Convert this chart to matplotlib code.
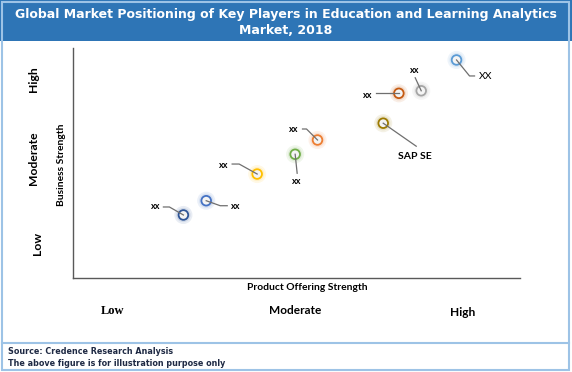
import matplotlib
matplotlib.use("Agg")
import matplotlib.pyplot as plt
from matplotlib.patches import Rectangle

# ---- data ----
names = ["xx", "xx", "xx", "xx", "xx", "SAP SE", "xx", "xx", "XX"]
product_strength = [2.47, 2.98, 4.12, 4.97, 5.47, 6.94, 7.29, 7.79, 8.58]
business_strength = [2.74, 3.36, 4.52, 5.38, 6.00, 6.73, 8.03, 8.14, 9.48]
colors = ["#2F5597", "#4472C4", "#FFC000", "#70AD47", "#ED7D31",
          "#9C7A00", "#C55A11", "#A5A5A5", "#5B9BD5"]
x_levels = ["Low", "Moderate", "High"]
y_levels = ["Low", "Moderate", "High"]
title = "Global Market Positioning of Key Players in Education and Learning Analytics\nMarket, 2018"
x_title = "Product Offering Strength"
y_title = "Business Strength"
footer = ["Source: Credence Research Analysis",
          "The above figure is for illustration purpose only"]

# ---- layout: label offsets and leader-line vertices, in pixels (y up) ----
label_off = [(-28, 8), (30, -6), (-33, 9), (2, -27), (-24, 11),
             (32, -33), (-31, -2), (-6, 20), (29, -17)]
leader = [[(0, 0), (-14, 8), (-20, 8)],
          [(0, 0), (14, -5), (21, -5)],
          [(0, 0), (-18, 10), (-25, 10)],
          [(0, 0), (2, -19)],
          [(0, 0), (-11, 11), (-15, 11)],
          [(0, 0), (33, -23)],
          [(0, 0), (-23, 0)],
          [(0, 0), (-6, 13)],
          [(0, 0), (13, -16), (18, -16)]]

W, H = 572, 372
fig = plt.figure(figsize=(W / 100, H / 100), dpi=100)
fig.patch.set_facecolor("white")

def fx(x):
    return x / W

def fy(y):
    return 1 - y / H

# title bar
fig.patches.append(Rectangle((0, fy(41)), 1, 41 / H, transform=fig.transFigure,
                             facecolor="#2E75B6", edgecolor="none", zorder=0))
fig.text(0.5, fy(22.5), title, ha="center", va="center", color="white",
         fontsize=9, fontweight="bold", family="DejaVu Sans", linespacing=1.3)
# border
fig.patches.append(Rectangle((fx(1.5), fy(369.5)), fx(567), 368 / H, transform=fig.transFigure,
                             facecolor="none", edgecolor="#9DC3E6", lw=1.5, zorder=5))
fig.lines.append(plt.Line2D([fx(1.5), fx(568.5)], [fy(342.5), fy(342.5)],
                            transform=fig.transFigure, color="#9DC3E6", lw=1.5))

ax = fig.add_axes([fx(73), fy(278), fx(520) - fx(73), (278 - 48) / H])
ax.set_xlim(0, 10)
ax.set_ylim(0, 10)
for s in ["top", "right"]:
    ax.spines[s].set_visible(False)
for s in ["left", "bottom"]:
    ax.spines[s].set_color("#595959")
    ax.spines[s].set_linewidth(1.0)
ax.set_xticks([])
ax.set_yticks([])
ax.patch.set_alpha(0)

# glow + ring markers
ax.scatter(product_strength, business_strength, s=170, c=colors, alpha=0.10,
           edgecolors="none", zorder=2)
ax.scatter(product_strength, business_strength, s=105, c=colors, alpha=0.13,
           edgecolors="none", zorder=2)
ax.scatter(product_strength, business_strength, s=48, facecolors="#F4F4F4",
           edgecolors=colors, linewidths=1.3, zorder=3)

fig.canvas.draw()
for i, name in enumerate(names):
    if name == "SAP SE":
        fs, fw = 7.5, "bold"
    elif name == "XX":
        fs, fw = 7.5, "normal"
    else:
        fs, fw = 6.5, "bold"
    px, py = ax.transData.transform((product_strength[i], business_strength[i]))
    xs = [px + dx for dx, dy in leader[i]]
    ys = [py + dy for dx, dy in leader[i]]
    fig.lines.append(plt.Line2D(xs, ys, transform=None, color="#6F6F6F",
                                lw=0.9, zorder=4))
    ax.annotate(name, xy=(product_strength[i], business_strength[i]),
                xytext=label_off[i], textcoords="offset pixels",
                ha="center", va="center", fontsize=fs, fontweight=fw,
                family="Lato", color="black", zorder=4)

# axis titles & level labels
fig.text(fx(307), fy(287), x_title, ha="center", va="center", fontsize=7.4,
         fontweight="bold", family="Lato")
fig.text(fx(62), fy(165), y_title, ha="center", va="center", fontsize=7.4,
         fontweight="bold", family="Lato", rotation=90)

x_pos = [(113, 311), (295, 311), (463, 313)]
for (px, py), lab in zip(x_pos, x_levels):
    if lab == "Low":
        fig.text(fx(px), fy(py), lab, ha="center", va="center", fontsize=9,
                 fontweight="bold", family="Liberation Serif")
    else:
        fig.text(fx(px), fy(py), lab, ha="center", va="center", fontsize=8.6,
                 fontweight="bold", family="Lato")

y_pos = [(37, 243), (33, 158), (33, 79)]
for (px, py), lab in zip(y_pos, y_levels):
    fig.text(fx(px), fy(py), lab, ha="center", va="center", fontsize=8.7,
             fontweight="bold", family="Lato", rotation=90)

fig.text(fx(8), fy(352), footer[0], ha="left", va="center", fontsize=5.75,
         fontweight="bold", family="DejaVu Sans", color="#1F2A44")
fig.text(fx(8), fy(363), footer[1], ha="left", va="center", fontsize=5.75,
         fontweight="bold", family="DejaVu Sans", color="#1F2A44")

fig.savefig("out.png", dpi=100)
